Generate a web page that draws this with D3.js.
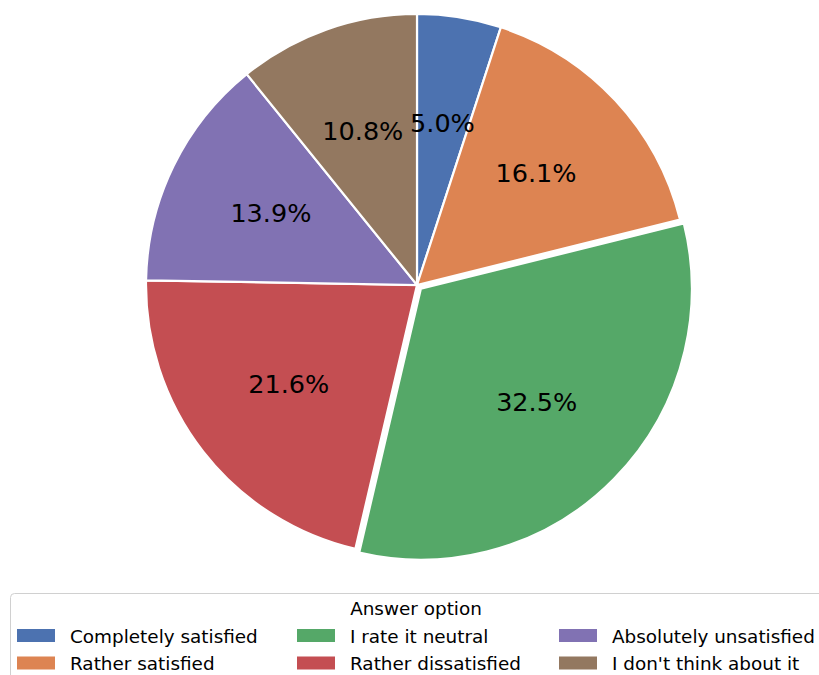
<!DOCTYPE html>
<html>
<head>
<meta charset="utf-8">
<script src="https://cdn.jsdelivr.net/npm/d3@7"></script>
<style>
  html, body { margin: 0; padding: 0; background: #fff; }
  svg { display: block; font-family: "DejaVu Sans", sans-serif; }
</style>
</head>
<body>
<svg id="chart" width="819" height="675"></svg>
<script>
// Survey answers and their share of respondents (%)
const categories = [
  "Completely satisfied",
  "Rather satisfied",
  "I rate it neutral",
  "Rather dissatisfied",
  "Absolutely unsatisfied",
  "I don't think about it"
];
const shares = [5.0, 16.1, 32.5, 21.6, 13.9, 10.8];
const colors = ["#4C72B0", "#DD8452", "#55A868", "#C44E52", "#8172B3", "#937860"];
const explode = [0, 0, 0.02, 0, 0, 0];
const legendTitle = "Answer option";

const svg = d3.select("#chart");
const cx = 417, cy = 285, radius = 271;

const pie = d3.pie().sort(null).value(d => d.value)
  .startAngle(0).endAngle(2 * Math.PI);
const data = pie(categories.map((c, i) => ({ name: c, value: shares[i], color: colors[i], explode: explode[i] })));

const arc = d3.arc().innerRadius(0).outerRadius(radius);
const labelArc = d3.arc().innerRadius(radius * 0.6).outerRadius(radius * 0.6);

// offset of an exploded wedge along its bisector
const shift = d => {
  const mid = (d.startAngle + d.endAngle) / 2;
  const off = d.data.explode * radius;
  return [off * Math.sin(mid), -off * Math.cos(mid)];
};

const g = svg.append("g").attr("transform", `translate(${cx},${cy})`);

// wedges first, then all percentage labels on top
g.append("g").selectAll("path").data(data).join("path")
  .attr("transform", d => `translate(${shift(d)})`)
  .attr("d", arc)
  .attr("fill", d => d.data.color)
  .attr("stroke", "#fff")
  .attr("stroke-width", 2.2)
  .attr("stroke-linejoin", "miter");

g.append("g").selectAll("text").data(data).join("text")
  .attr("transform", d => {
    const [c0, c1] = labelArc.centroid(d);
    const [s0, s1] = shift(d);
    return `translate(${c0 + s0},${c1 + s1 - 1})`;
  })
  .attr("text-anchor", "middle")
  .attr("dominant-baseline", "central")
  .attr("font-size", 25.5)
  .attr("fill", "#000")
  .text(d => d.data.value.toFixed(1) + "%");

// Legend: three columns, filled column by column
const legend = svg.append("g");
legend.append("rect")
  .attr("x", 10.5).attr("y", 593.5)
  .attr("width", 830).attr("height", 110)
  .attr("rx", 4)
  .attr("fill", "#fff")
  .attr("stroke", "#d0d0d0")
  .attr("stroke-width", 1);

legend.append("text")
  .attr("x", 416).attr("y", 615)
  .attr("text-anchor", "middle")
  .attr("font-size", 18.4)
  .attr("fill", "#000")
  .text(legendTitle);

const colX = [17, 297, 559];
const rowY = [629, 656.5];
const items = legend.selectAll("g.item").data(categories).join("g")
  .attr("class", "item")
  .attr("transform", (d, i) => `translate(${colX[Math.floor(i / 2)]},${rowY[i % 2]})`);

items.append("rect")
  .attr("width", 38).attr("height", 13)
  .attr("fill", (d, i) => colors[i]);

items.append("text")
  .attr("x", 53).attr("y", 13.5)
  .attr("font-size", 18.4)
  .attr("fill", "#000")
  .text(d => d);
</script>
</body>
</html>
